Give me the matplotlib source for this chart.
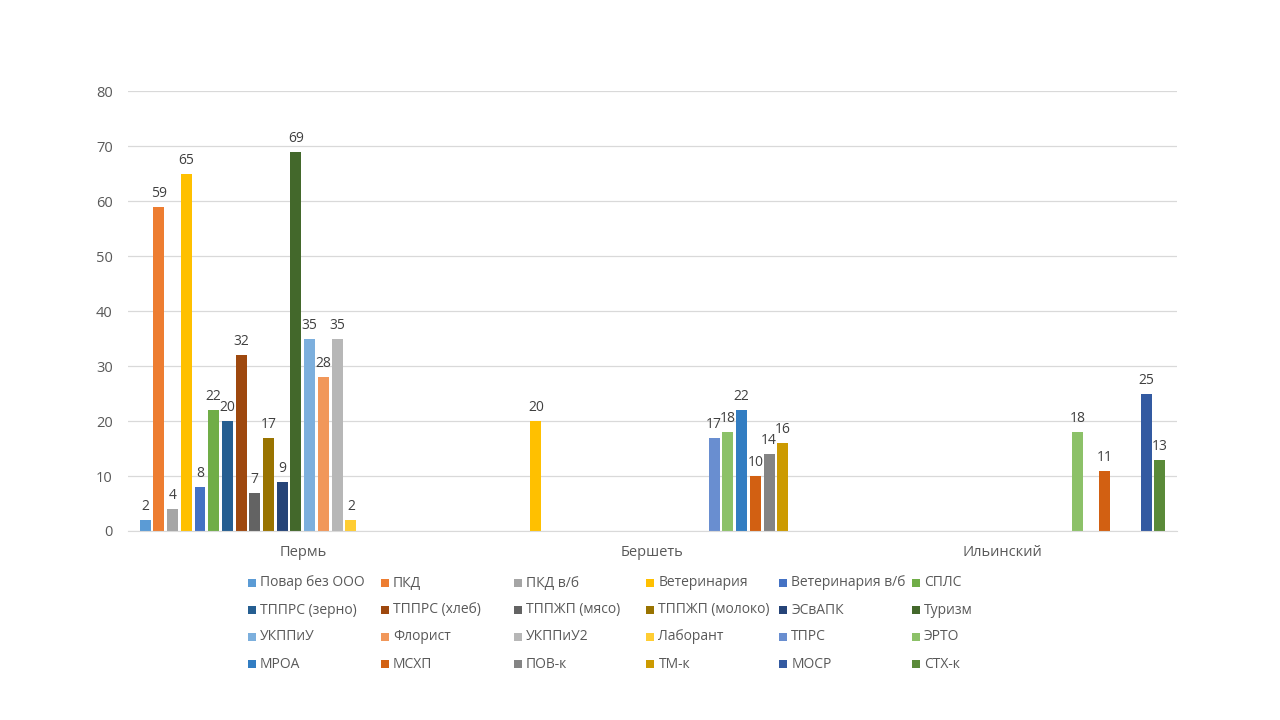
import matplotlib.pyplot as plt
from matplotlib.patches import Rectangle
import numpy as np

plt.rcParams['font.family'] = ['Open Sans', 'DejaVu Sans']

# категории (населённые пункты)
places = ['Пермь', 'Бершеть', 'Ильинский']

# ряды в порядке легенды
series = ['Повар без ООО', 'ПКД', 'ПКД в/б', 'Ветеринария', 'Ветеринария в/б', 'СПЛС',
          'ТППРС (зерно)', 'ТППРС (хлеб)', 'ТППЖП (мясо)', 'ТППЖП (молоко)', 'ЭСвАПК', 'Туризм',
          'УКППиУ', 'Флорист', 'УКППиУ2', 'Лаборант', 'ТПРС', 'ЭРТО',
          'МРОА', 'МСХП', 'ПОВ-к', 'ТМ-к', 'МОСР', 'СТХ-к']

# значения по рядам: [Пермь, Бершеть, Ильинский], 0 = нет столбца
perm      = [2, 59, 4, 65, 8, 22, 20, 32, 7, 17, 9, 69, 35, 28, 35, 2, 0, 0, 0, 0, 0, 0, 0, 0]
bershet   = [0, 0, 0, 20, 0, 0, 0, 0, 0, 0, 0, 0, 0, 0, 0, 0, 17, 18, 22, 10, 14, 16, 0, 0]
ilyinsky  = [0, 0, 0, 0, 0, 0, 0, 0, 0, 0, 0, 0, 0, 0, 0, 0, 0, 18, 0, 11, 0, 0, 25, 13]

colors = ['#5B9BD5', '#ED7D31', '#A5A5A5', '#FFC000', '#4472C4', '#70AD47',
          '#255E91', '#9E480E', '#636363', '#997300', '#264478', '#43682B',
          '#7CAFDD', '#F1975A', '#B7B7B7', '#FFCD33', '#698ED0', '#8CC168',
          '#327DC2', '#D26012', '#848484', '#CC9A00', '#335AA1', '#5A8A39']

fig = plt.figure(figsize=(12.8, 7.2), dpi=100)
ax = fig.add_axes([0.1, 0.2625, 0.8195, 0.611])

n = len(series)
slot = 1 / (n + 1.5)   # ширина слота, зазор 150%
x = np.arange(len(places))

for i, name in enumerate(series):
    vals = [perm[i], bershet[i], ilyinsky[i]]
    bars = ax.bar(x + (i - (n - 1) / 2) * slot, vals, width=slot * 0.8,
                  color=colors[i], linewidth=0)
    labels = [str(v) if v else '' for v in vals]
    ax.bar_label(bars, labels=labels, padding=4, fontsize=10, color='#404040')

ax.set_xlim(-0.5, len(places) - 0.5)
ax.set_ylim(0, 80)
ax.set_yticks(range(0, 81, 10))
ax.set_xticks(x)
ax.set_xticklabels(places)
ax.tick_params(axis='both', length=0, labelsize=10.5, colors='#595959')
ax.tick_params(axis='x', pad=10)
ax.tick_params(axis='y', pad=11)
ax.yaxis.grid(True, color='#D9D9D9', linewidth=0.9)
ax.set_axisbelow(True)
for s in ['top', 'right', 'left']:
    ax.spines[s].set_visible(False)
ax.spines['bottom'].set_color('#D9D9D9')

# легенда: 6 колонок, 4 строки, ровная сетка
W, H = 1280, 720
for i, name in enumerate(series):
    row, col = divmod(i, 6)
    px = 248 + col * 132.8
    py = 583 + row * 27
    fig.patches.append(Rectangle((px / W, (H - py - 4) / H), 8 / W, 8 / H,
                                 transform=fig.transFigure, color=colors[i], linewidth=0))
    fig.text((px + 12) / W, (H - py) / H, name, fontsize=10, color='#595959',
             va='center', ha='left')

fig.savefig('out.png', dpi=100)
